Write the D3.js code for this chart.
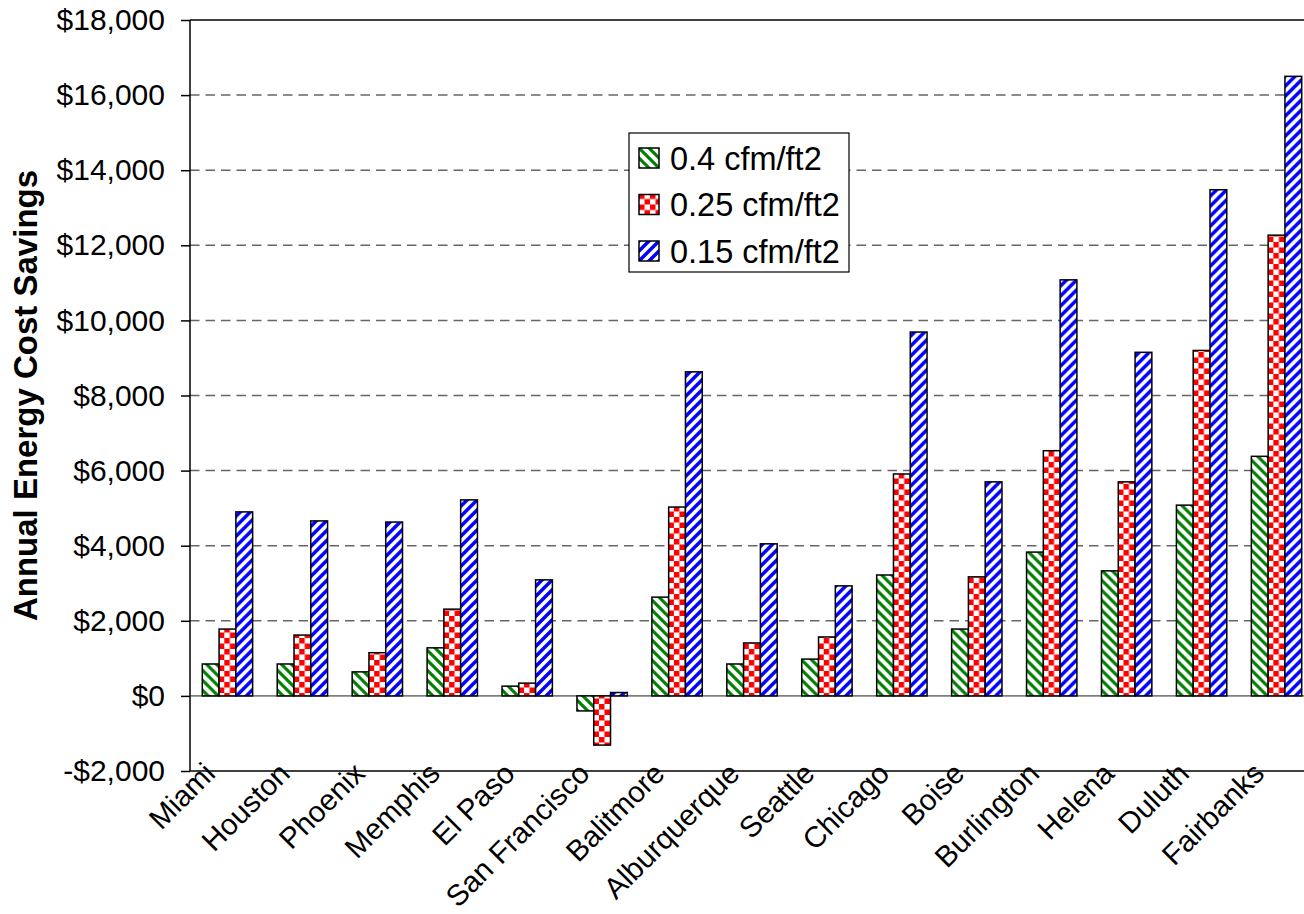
<!DOCTYPE html>
<html>
<head>
<meta charset="utf-8">
<script src="https://cdn.jsdelivr.net/npm/d3@7"></script>
<style>
  html, body { margin: 0; padding: 0; background: #fff; }
  svg { display: block; font-family: "Liberation Sans", Arial, sans-serif; }
</style>
</head>
<body>
<svg id="chart" width="1304" height="914"></svg>
<script>
const cities = ["Miami","Houston","Phoenix","Memphis","El Paso","San Francisco","Balitmore","Alburquerque","Seattle","Chicago","Boise","Burlington","Helena","Duluth","Fairbanks"];
const seriesNames = ["0.4 cfm/ft2","0.25 cfm/ft2","0.15 cfm/ft2"];
const s040 = [850, 850, 640, 1280, 260, -400, 2630, 850, 980, 3220, 1780, 3830, 3330, 5080, 6380];
const s025 = [1780, 1620, 1150, 2310, 340, -1310, 5030, 1410, 1570, 5910, 3170, 6530, 5700, 9200, 12270];
const s015 = [4900, 4660, 4630, 5220, 3090, 90, 8630, 4050, 2930, 9690, 5700, 11080, 9150, 13480, 16500];
const yTicks = [-2000, 0, 2000, 4000, 6000, 8000, 10000, 12000, 14000, 16000, 18000];
const yTitle = "Annual Energy Cost Savings";

const seriesValues = [s040, s025, s015];
const patternIds = ["pGreen", "pRed", "pBlue"];

const svg = d3.select("#chart");
const m = {left: 190, top: 20, right: 1314, bottom: 771};

// patterns
const defs = svg.append("defs");
const pg = defs.append("pattern").attr("id", "pGreen").attr("patternUnits", "userSpaceOnUse")
  .attr("width", 10).attr("height", 10);
pg.append("rect").attr("width", 10).attr("height", 10).attr("fill", "#fff");
pg.append("path").attr("d", "M-5,5 L5,15 M0,0 L10,10 M5,-5 L15,5")
  .attr("stroke", "#008000").attr("stroke-width", 3.1);

const pb = defs.append("pattern").attr("id", "pBlue").attr("patternUnits", "userSpaceOnUse")
  .attr("width", 10).attr("height", 10);
pb.append("rect").attr("width", 10).attr("height", 10).attr("fill", "#fff");
pb.append("path").attr("d", "M-5,5 L5,-5 M0,10 L10,0 M5,15 L15,5")
  .attr("stroke", "#0000ff").attr("stroke-width", 3.5);

const cs = 5.5;
const pr = defs.append("pattern").attr("id", "pRed").attr("patternUnits", "userSpaceOnUse")
  .attr("width", cs * 2).attr("height", cs * 2);
pr.append("rect").attr("width", cs * 2).attr("height", cs * 2).attr("fill", "#fff");
pr.append("rect").attr("width", cs).attr("height", cs).attr("fill", "#ff0000");
pr.append("rect").attr("x", cs).attr("y", cs).attr("width", cs).attr("height", cs).attr("fill", "#ff0000");

const x0 = d3.scaleBand().domain(cities).range([m.left, m.right]).paddingInner(0.328).paddingOuter(0.164);
const x1 = d3.scaleBand().domain(seriesNames).range([0, x0.bandwidth()]);
const y = d3.scaleLinear().domain([-2000, 18000]).range([m.bottom, m.top]);

// gridlines
svg.append("g").selectAll("line").data(yTicks.filter(t => t !== 0 && t !== 18000 && t !== -2000)).join("line")
  .attr("x1", m.left).attr("x2", m.right).attr("y1", d => y(d)).attr("y2", d => y(d))
  .attr("stroke", "#666").attr("stroke-width", 1.5).attr("stroke-dasharray", "9.5,6");

// zero line
svg.append("line").attr("x1", m.left).attr("x2", m.right).attr("y1", y(0)).attr("y2", y(0))
  .attr("stroke", "#808080").attr("stroke-width", 1.6);

// bars
const groups = svg.append("g").selectAll("g").data(cities).join("g")
  .attr("transform", d => `translate(${x0(d)},0)`);
groups.selectAll("rect").data((c, i) => seriesNames.map((s, k) => ({s, k, v: seriesValues[k][i]}))).join("rect")
  .attr("x", d => x1(d.s))
  .attr("width", x1.bandwidth())
  .attr("y", d => y(Math.max(0, d.v)))
  .attr("height", d => Math.abs(y(d.v) - y(0)))
  .attr("fill", d => `url(#${patternIds[d.k]})`)
  .attr("stroke", "#000").attr("stroke-width", 1.5);

// plot border top & bottom
svg.append("line").attr("x1", m.left).attr("x2", m.right).attr("y1", m.top).attr("y2", m.top)
  .attr("stroke", "#000").attr("stroke-width", 1.5);
svg.append("line").attr("x1", m.left).attr("x2", m.right).attr("y1", m.bottom).attr("y2", m.bottom)
  .attr("stroke", "#000").attr("stroke-width", 1.5);

// y axis
const yAxis = d3.axisLeft(y).tickValues(yTicks).tickSize(9).tickPadding(16)
  .tickFormat(d => (d < 0 ? "-$" : "$") + d3.format(",")(Math.abs(d)));
const ya = svg.append("g").attr("transform", `translate(${m.left},0)`).call(yAxis);
ya.select(".domain").attr("stroke", "#000").attr("stroke-width", 1.5).attr("d", `M0,${m.top}V${m.bottom}`);
ya.selectAll(".tick line").attr("stroke", "#000").attr("stroke-width", 1.5);
ya.selectAll(".tick text").attr("font-size", 30).attr("font-family", "Liberation Sans, Arial, sans-serif").attr("fill", "#000");

// x labels
svg.append("g").selectAll("text").data(cities).join("text")
  .attr("transform", d => `translate(${x0(d) + x0.bandwidth() / 2 - 18},${m.bottom - 3}) rotate(-45)`)
  .attr("text-anchor", "end").attr("dy", "0.35em")
  .attr("font-size", 29.5).attr("fill", "#000")
  .text(d => d);

// y title
svg.append("text").attr("transform", `translate(37,${(m.top + m.bottom) / 2}) rotate(-90)`)
  .attr("text-anchor", "middle").attr("font-size", 33).attr("font-weight", "bold")
  .text(yTitle);

// legend
const lg = svg.append("g");
lg.append("rect").attr("x", 629).attr("y", 133).attr("width", 220).attr("height", 139)
  .attr("fill", "#fff").attr("stroke", "#000").attr("stroke-width", 1.2);
const rows = lg.selectAll("g").data(seriesNames).join("g")
  .attr("transform", (d, i) => `translate(639,${158 + i * 46.5})`);
rows.append("rect").attr("x", 0).attr("y", -10).attr("width", 20).attr("height", 20)
  .attr("fill", (d, i) => `url(#${patternIds[i]})`).attr("stroke", "#000").attr("stroke-width", 1.5);
rows.append("text").attr("x", 31).attr("y", 0).attr("dy", "0.36em").attr("font-size", 32.5).text(d => d);
</script>
</body>
</html>
